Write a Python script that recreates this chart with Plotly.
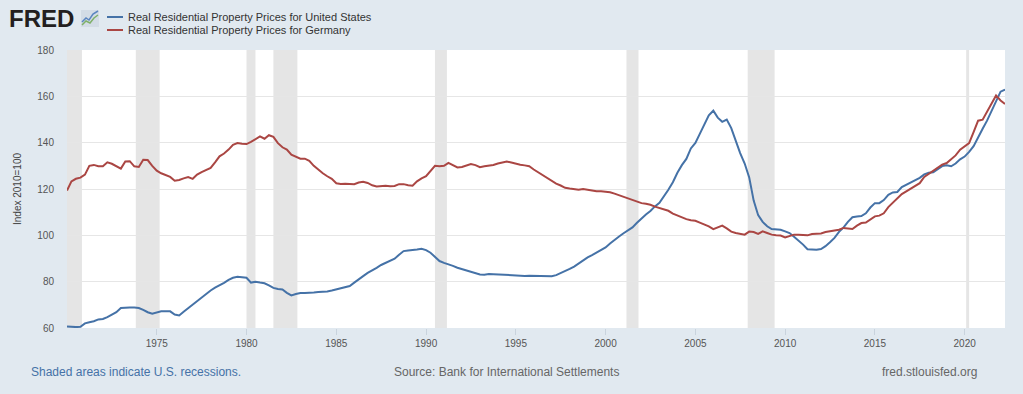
import plotly.graph_objects as go

# ---------------- data ----------------
quarters = [f"{y}-{m:02d}-01" for y in range(1970, 2023) for m in (1, 4, 7, 10)][:210]

us_values = [
    60.7, 60.5, 60.4, 60.5,      # 1970
    62.0, 62.5, 62.9, 63.7,      # 1971
    63.9, 64.7, 65.6, 66.8,      # 1972
    68.6, 68.8, 68.9, 68.8,      # 1973
    68.6, 67.8, 66.8, 66.2,      # 1974
    66.7, 67.2, 67.2, 67.2,      # 1975
    65.8, 65.4, 67.0, 68.6,      # 1976
    70.0, 71.5, 73.3, 75.0,      # 1977
    76.2, 77.4, 78.4, 79.5,      # 1978
    80.8, 81.7, 82.1, 82.0,      # 1979
    81.7, 79.6, 80.0, 79.6,      # 1980
    79.3, 78.4, 77.3, 76.8,      # 1981
    76.6, 75.2, 74.1, 74.7,      # 1982
    75.1, 75.1, 75.1, 75.3,      # 1983
    75.5, 75.6, 75.8, 76.2,      # 1984
    76.6, 77.2, 77.6, 78.1,      # 1985
    79.6, 81.2, 82.4, 83.8,      # 1986
    84.8, 86.0, 87.2, 88.0,      # 1987
    88.9, 89.9, 91.6, 93.2,      # 1988
    93.5, 93.6, 93.9, 94.2,      # 1989
    93.6, 92.5, 90.8, 88.9,      # 1990
    88.1, 87.6, 86.8, 86.0,      # 1991
    85.4, 84.9, 84.1, 83.6,      # 1992
    83.1, 83.0, 83.3, 83.2,      # 1993
    83.1, 83.0, 82.8, 82.6,      # 1994
    82.4, 82.3, 82.5, 82.6,      # 1995
    82.6, 82.3, 82.3, 82.3,      # 1996
    82.3, 82.8, 83.6, 84.5,      # 1997
    85.5, 86.5, 87.9, 89.3,      # 1998
    90.5, 91.5, 92.6, 93.8,      # 1999
    94.8, 96.5, 97.8, 99.5,      # 2000
    100.9, 102.2, 103.4, 105.4,  # 2001
    107.4, 109.0, 110.5, 112.5,  # 2002
    114.0, 116.6, 119.7, 122.9,  # 2003
    127.0, 130.3, 133.0, 137.5,  # 2004
    139.9, 143.8, 148.0, 151.8,  # 2005
    153.8, 150.8, 149.0, 150.0,  # 2006
    146.3, 140.5, 135.5, 131.0,  # 2007
    125.0, 115.0, 108.7, 105.8,  # 2008
    103.9, 102.7, 102.5, 102.4,  # 2009
    101.7, 101.0, 99.4, 97.8,    # 2010
    96.0, 94.0, 93.8, 93.8,      # 2011
    94.1, 95.3, 97.0, 98.9,      # 2012
    101.5, 103.3, 105.8, 107.8,  # 2013
    108.1, 108.3, 109.5, 112.0,  # 2014
    113.9, 113.9, 115.2, 117.5,  # 2015
    118.5, 118.7, 120.8, 121.8,  # 2016
    122.7, 123.8, 124.8, 126.3,  # 2017
    127.0, 127.2, 128.5, 129.9,  # 2018
    130.2, 129.8, 131.0, 132.8,  # 2019
    134.0, 136.0, 138.5, 142.5,  # 2020
    146.0, 149.5, 153.5, 157.8,  # 2021
    162.0, 162.9,                # 2022
]

de_values = [
    119.3, 123.3, 124.4, 124.9,  # 1970
    126.2, 130.0, 130.4, 129.8,  # 1971
    129.8, 131.5, 130.9, 130.0,  # 1972
    128.8, 131.9, 132.0, 129.8,  # 1973
    129.5, 132.6, 132.5, 130.0,  # 1974
    127.9, 126.8, 126.0, 125.2,  # 1975
    123.6, 123.9, 124.6, 125.2,  # 1976
    124.4, 126.2, 127.3, 128.3,  # 1977
    129.1, 131.5, 134.1, 135.3,  # 1978
    137.0, 139.1, 139.8, 139.5,  # 1979
    139.4, 140.3, 141.5, 142.7,  # 1980
    141.7, 143.2, 142.5, 139.8,  # 1981
    138.0, 137.0, 134.8, 133.8,  # 1982
    133.1, 133.1, 132.2, 130.0,  # 1983
    128.2, 126.8, 125.5, 124.4,  # 1984
    122.5, 122.2, 122.3, 122.2,  # 1985
    122.1, 122.8, 123.1, 122.6,  # 1986
    121.6, 121.1, 121.3, 121.4,  # 1987
    121.2, 121.3, 122.1, 122.1,  # 1988
    121.6, 121.4, 123.3, 124.6,  # 1989
    125.5, 128.0, 130.0, 129.8,  # 1990
    130.0, 131.3, 130.3, 129.3,  # 1991
    129.5, 130.0, 130.8, 130.3,  # 1992
    129.4, 129.8, 130.0, 130.4,  # 1993
    131.0, 131.5, 131.9, 131.4,  # 1994
    130.8, 130.5, 130.2, 129.8,  # 1995
    128.4, 127.2, 126.0, 125.0,  # 1996
    123.6, 122.3, 121.5, 120.5,  # 1997
    120.2, 119.9, 119.7, 120.0,  # 1998
    119.6, 119.2, 119.0, 119.0,  # 1999
    118.9, 118.6, 118.0, 117.3,  # 2000
    116.7, 115.8, 115.3, 114.4,  # 2001
    113.9, 113.6, 113.2, 112.4,  # 2002
    111.8, 111.2, 110.6, 109.4,  # 2003
    108.5, 107.8, 107.0, 106.5,  # 2004
    106.3, 105.5, 104.8, 103.9,  # 2005
    102.7, 103.6, 104.2, 103.0,  # 2006
    101.6, 101.0, 100.7, 100.3,  # 2007
    101.6, 101.4, 100.6, 101.7,  # 2008
    101.0, 100.3, 100.0, 99.9,   # 2009
    99.1, 99.8, 100.3, 100.3,    # 2010
    100.2, 100.0, 100.6, 100.6,  # 2011
    100.8, 101.4, 101.7, 102.2,  # 2012
    102.4, 103.2, 103.1, 102.7,  # 2013
    104.2, 105.3, 105.5, 106.8,  # 2014
    108.2, 108.5, 109.5, 112.2,  # 2015
    114.2, 116.0, 117.8, 119.0,  # 2016
    120.1, 121.2, 122.5, 125.2,  # 2017
    126.5, 127.8, 129.3, 130.5,  # 2018
    131.2, 132.8, 134.5, 137.0,  # 2019
    138.5, 139.8, 144.5, 149.5,  # 2020
    149.9, 153.3, 157.3, 160.4,  # 2021
    158.2, 156.7,                # 2022
]

recession_starts = ["1969-12-01", "1973-11-01", "1980-01-01", "1981-07-01",
                    "1990-07-01", "2001-03-01", "2007-12-01", "2020-02-01"]
recession_ends = ["1970-11-01", "1975-03-01", "1980-07-01", "1982-11-01",
                  "1991-03-01", "2001-11-01", "2009-06-01", "2020-04-01"]

x_tick_values = ["1975-01-01", "1980-01-01", "1985-01-01", "1990-01-01", "1995-01-01",
                 "2000-01-01", "2005-01-01", "2010-01-01", "2015-01-01", "2020-01-01"]
x_tick_labels = ["1975", "1980", "1985", "1990", "1995", "2000", "2005", "2010", "2015", "2020"]
y_tick_values = [60, 80, 100, 120, 140, 160, 180]

series_names = ["Real Residential Property Prices for United States",
                "Real Residential Property Prices for Germany"]
series_colors = ["#4572a7", "#aa4643"]

# ---------------- layout helpers ----------------
W, H = 1023, 394
L, R, T, B = 67, 18, 50, 66
PW, PH = W - L - R, H - T - B


def px(xp):
    return (xp - L) / PW


def py(yp):
    return (H - B - yp) / PH


FONT = "Liberation Sans, Arial, Helvetica, sans-serif"
BG = "#e1e9f0"

fig = go.Figure()
for vals, name, col in zip([us_values, de_values], series_names, series_colors):
    fig.add_trace(go.Scatter(x=quarters, y=vals, mode="lines", name=name,
                             line=dict(color=col, width=2), showlegend=False))

shapes = []
for s, e in zip(recession_starts, recession_ends):
    shapes.append(dict(type="rect", xref="x", yref="paper", x0=s, x1=e, y0=0, y1=1,
                       fillcolor="#e5e5e5", line=dict(width=0), layer="below"))

# legend line symbols
for i, col in enumerate(series_colors):
    yy = py(17 + 13 * i)
    shapes.append(dict(type="line", xref="paper", yref="paper", x0=px(107), x1=px(123),
                       y0=yy, y1=yy, line=dict(color=col, width=2)))

# FRED small chart icon
shapes.append(dict(type="rect", xref="paper", yref="paper", x0=px(81), x1=px(99),
                   y0=py(27), y1=py(10), fillcolor="#d3dce6", line=dict(width=0)))
blue_pts = [(82, 22), (86, 18), (89, 20), (93, 14), (98, 11)]
green_pts = [(82, 25), (86, 21), (90, 23), (94, 18), (98, 15)]
for pts, col in [(blue_pts, "#5b86c0"), (green_pts, "#7fb069")]:
    path = "M " + " L ".join(f"{px(a):.5f},{py(b):.5f}" for a, b in pts)
    shapes.append(dict(type="path", xref="paper", yref="paper", path=path,
                       line=dict(color=col, width=1.5)))

annotations = [
    dict(text="<b>FRED</b>", x=px(7), y=py(18), xref="paper", yref="paper",
         xanchor="left", yanchor="middle", showarrow=False,
         font=dict(family=FONT, size=24, color="#231f20")),
    dict(text="Index 2010=100", x=px(17), y=0.5, xref="paper", yref="paper",
         textangle=-90, xanchor="center", yanchor="middle", showarrow=False,
         font=dict(family=FONT, size=10, color="#444")),
    dict(text="Shaded areas indicate U.S. recessions.", x=px(29), y=py(372),
         xref="paper", yref="paper", xanchor="left", yanchor="middle", showarrow=False,
         font=dict(family=FONT, size=12, color="#4572a7")),
    dict(text="Source: Bank for International Settlements", x=px(506), y=py(372),
         xref="paper", yref="paper", xanchor="center", yanchor="middle", showarrow=False,
         font=dict(family=FONT, size=12, color="#666")),
    dict(text="fred.stlouisfed.org", x=px(979), y=py(372),
         xref="paper", yref="paper", xanchor="right", yanchor="middle", showarrow=False,
         font=dict(family=FONT, size=12, color="#666")),
]
for i, name in enumerate(series_names):
    annotations.append(dict(text=name, x=px(126), y=py(17 + 13 * i), xref="paper", yref="paper",
                            xanchor="left", yanchor="middle", showarrow=False,
                            font=dict(family=FONT, size=11, color="#333")))

fig.update_layout(
    width=W, height=H,
    margin=dict(l=L, r=R, t=T, b=B, autoexpand=False),
    paper_bgcolor=BG, plot_bgcolor="white",
    font=dict(family=FONT, size=10, color="#555"),
    shapes=shapes, annotations=annotations,
    showlegend=False,
    xaxis=dict(type="date", range=["1970-01-01", "2022-04-01"],
               tickvals=x_tick_values, ticktext=x_tick_labels,
               showgrid=False, zeroline=False, showline=False,
               ticks="outside", ticklen=6, tickcolor="#c9d3dd", tickwidth=1,
               tickfont=dict(family=FONT, size=10, color="#555")),
    yaxis=dict(range=[60, 180], tickvals=y_tick_values,
               showgrid=True, gridcolor="#e6e6e6", gridwidth=1,
               zeroline=False, showline=False, ticks="",
               ticklabelstandoff=12,
               tickfont=dict(family=FONT, size=10, color="#555")),
)

fig.write_html("out.html",
               config={"displayModeBar": False},
               post_script="document.body.style.margin='0px';"
                           "document.body.style.background='" + BG + "';")
